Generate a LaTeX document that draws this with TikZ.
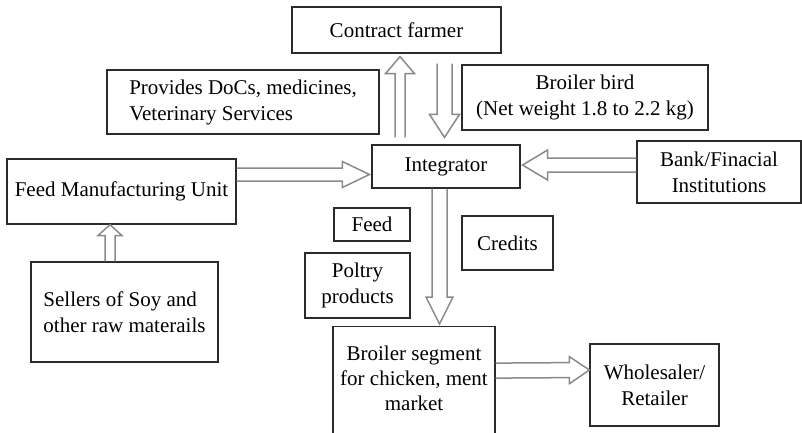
\documentclass[tikz,border=0pt]{standalone}
\usepackage{fontspec}
\setmainfont{Liberation Serif}
\usetikzlibrary{calc, arrows.meta}
\definecolor{boxline}{HTML}{2B2B2B}
\definecolor{arrowgray}{HTML}{8A8A8A}
\tikzset{
    box/.style={draw=boxline, line width=1.2pt, inner sep=0pt, font=\fontsize{21}{26}\selectfont},
    harrow/.style n args={3}{draw=arrowgray, line width=1.5pt, line join=miter,
        to path={($(\tikztotarget)!#3!(\tikztostart)$) coordinate (hb)
            ($(\tikztostart)!#1!90:(\tikztotarget)$) -- ($(hb)!#1!90:(\tikztotarget)$)
            -- ($(hb)!#2!90:(\tikztotarget)$) -- (\tikztotarget)
            -- ($(hb)!#2!-90:(\tikztotarget)$) -- ($(hb)!#1!-90:(\tikztotarget)$)
            -- ($(\tikztostart)!#1!-90:(\tikztotarget)$)}}
}
\begin{document}
\begin{tikzpicture}[x=1pt, y=-1pt]
                \useasboundingbox (0,0) rectangle (802,433);
                \clip (0,0) rectangle (802,433);
                \foreach \nm/\px/\py/\w/\h/\al/\txt in {
                    farmer/396.5/30/209/46/center/{Contract farmer},
                    provides/243/102/272/64/left/{Provides DoCs, medicines,\\Veterinary Services},
                    bird/585/97.5/246/65/center/{Broiler bird\\(Net weight 1.8 to 2.2 kg)},
                    integ/446/166.5/148/43/center/{Integrator},
                    feedunit/121.5/191.5/229/65/center/{Feed Manufacturing Unit},
                    bank/719/172/164/62/center/{Bank/Finacial\\Institutions},
                    feed/372/224.5/76/33/center/{Feed},
                    poultry/357.5/285.5/105/65/center/{Poltry\\products},
                    credits/507.5/243/91/54/center/{Credits},
                    whole/654.5/385/129/82/center/{Wholesaler/\\Retailer},
                    sellers/124.5/312/187/100/left/{Sellers of Soy and\\other raw materails}}{
                    \node[box, align=\al, minimum width=\w pt, minimum height=\h pt] (\nm) at (\px,\py) {\txt};
                }
                \node[box, minimum width=162pt, minimum height=120pt, anchor=north] (broiler) at (414,326) {};
                \node[align=center, font=\fontsize{21}{25}\selectfont] (broilertxt) at ([yshift=8.5pt]broiler.center) {Broiler segment\\for chicken, ment\\market};
                \draw[harrow={5pt}{14.5pt}{17pt}] ([xshift=-46pt,yshift=7pt]integ.north) to ([xshift=3.5pt,yshift=-3pt]farmer.south);
                \draw[harrow={7.5pt}{15pt}{23pt}] ([xshift=48pt,yshift=-10pt]farmer.south) to ([xshift=-1.5pt,yshift=7pt]integ.north);
                \draw[harrow={6.5pt}{13pt}{27pt}] ([yshift=17pt]feedunit.east) to ([xshift=-2pt,yshift=-8pt]integ.west);
                \draw[harrow={7pt}{15pt}{25pt}] ([yshift=7pt]bank.west) to ([xshift=2pt,yshift=1.5pt]integ.east);
                \draw[harrow={7.5pt}{13.5pt}{27pt}] ([xshift=-6.5pt]integ.south) to ([xshift=25.5pt,yshift=2pt]broiler.north);
                \draw[harrow={7.5pt}{13.5pt}{20pt}] ([yshift=16pt]broiler.east) to ([yshift=15pt]whole.west);
                \draw[harrow={5pt}{12pt}{11pt}] ([xshift=-14.5pt]sellers.north) to ([xshift=-11.5pt]feedunit.south);
            \end{tikzpicture}
\end{document}
